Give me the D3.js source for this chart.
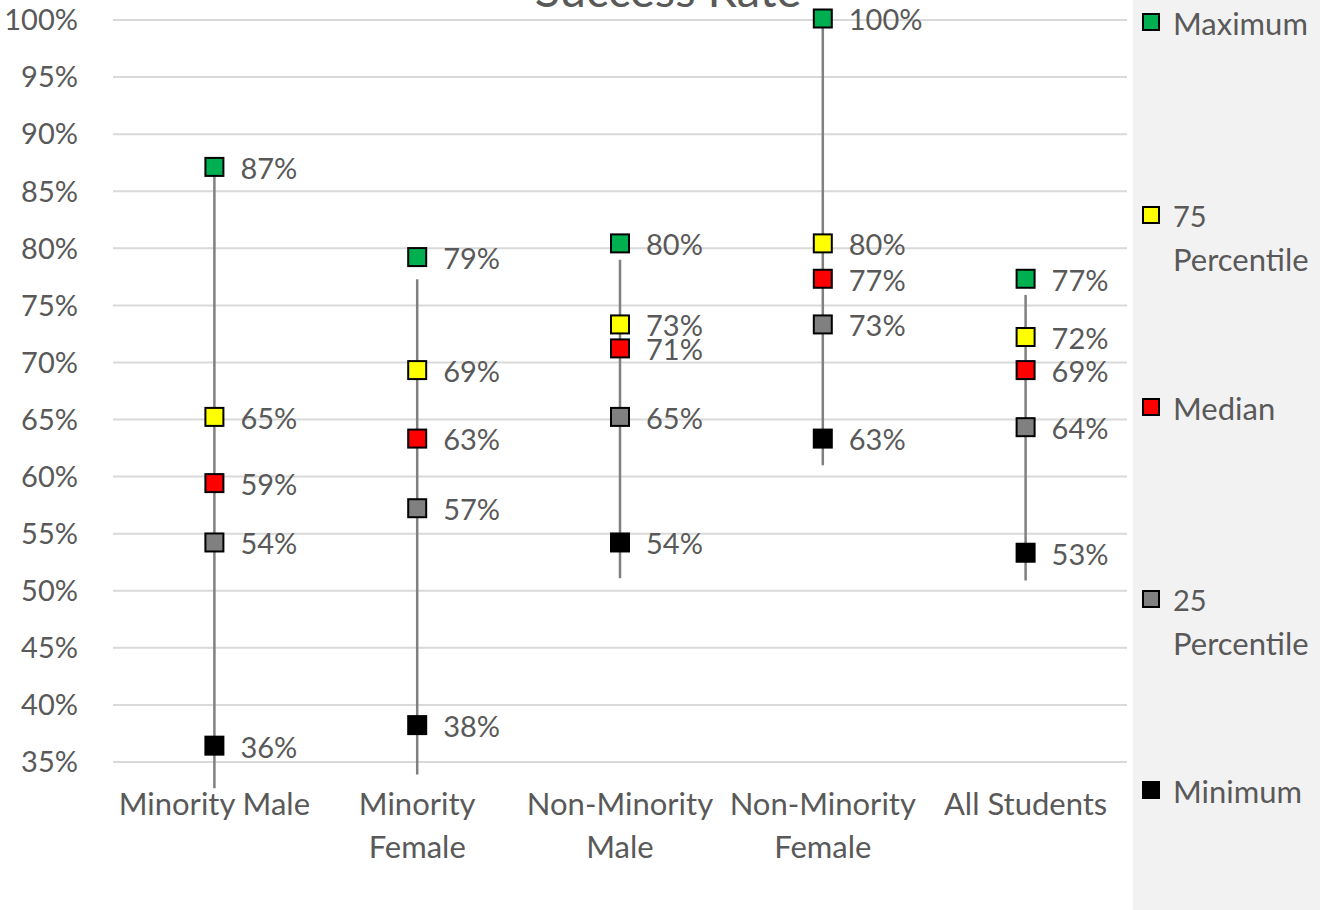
<!DOCTYPE html>
<html>
<head>
<meta charset="utf-8">
<script src="https://cdn.jsdelivr.net/npm/d3@7"></script>
<style>
  html, body { margin: 0; padding: 0; background: #fff; }
  svg { display: block; font-family: Lato, "Open Sans", "DejaVu Sans", sans-serif; }
</style>
</head>
<body>
<svg id="chart" width="1320" height="910"></svg>
<script>
// ---- data ----
const categories = [["Minority Male"], ["Minority", "Female"], ["Non-Minority", "Male"], ["Non-Minority", "Female"], ["All Students"]];
const maximum   = [87.0, 79.1, 80.3, 100.0, 77.2];
const pct75     = [65.1, 69.2, 73.2, 80.3, 72.1];
const median    = [59.3, 63.2, 71.1, 77.2, 69.2];
const pct25     = [54.1, 57.1, 65.1, 73.2, 64.2];
const minimum   = [36.3, 38.1, 54.1, 63.2, 53.2];
const maxLabels = ["87%", "79%", "80%", "100%", "77%"];
const p75Labels = ["65%", "69%", "73%", "80%", "72%"];
const medLabels = ["59%", "63%", "71%", "77%", "69%"];
const p25Labels = ["54%", "57%", "65%", "73%", "64%"];
const minLabels = ["36%", "38%", "54%", "63%", "53%"];
// hi-low connector lines (as drawn, slightly offset from markers)
const lineHigh  = [87.0, 77.3, 79.0, 100.0, 75.9];
const lineLow   = [32.7, 33.9, 51.1, 61.0, 50.9];
const yTicks    = [35, 40, 45, 50, 55, 60, 65, 70, 75, 80, 85, 90, 95, 100];
const title     = "Success Rate";

const seriesDefs = [
  { name: ["Maximum"], values: maximum, labels: maxLabels, color: "#00b050" },
  { name: ["75", "Percentile"], values: pct75, labels: p75Labels, color: "#ffff00" },
  { name: ["Median"], values: median, labels: medLabels, color: "#ff0000" },
  { name: ["25", "Percentile"], values: pct25, labels: p25Labels, color: "#808080" },
  { name: ["Minimum"], values: minimum, labels: minLabels, color: "#000000" }
];

// ---- layout ----
const svg = d3.select("#chart");
const textColor = "#595959";
const numSize = 29, wordSize = 31;
const x = d3.scaleBand().domain(d3.range(categories.length)).range([113, 1127]).paddingInner(0).paddingOuter(0);
const y = d3.scaleLinear().domain([35, 100]).range([762, 20]);
const cx = i => x(i) + x.bandwidth() / 2;

// legend background
svg.append("rect").attr("x", 1133).attr("y", 0).attr("width", 187).attr("height", 910).attr("fill", "#f2f2f2");

// gridlines
svg.append("g").selectAll("line").data(yTicks).join("line")
  .attr("x1", 113).attr("x2", 1127)
  .attr("y1", d => y(d)).attr("y2", d => y(d))
  .attr("stroke", "#d9d9d9").attr("stroke-width", 2);

// y-axis labels
svg.append("g").selectAll("text").data(yTicks).join("text")
  .attr("x", 78).attr("y", d => y(d) + 3)
  .attr("text-anchor", "end").attr("dominant-baseline", "middle")
  .attr("font-size", numSize).attr("fill", textColor)
  .text(d => d + "%");

// title (partially cut at top)
svg.append("text").attr("x", 668).attr("y", 7).attr("text-anchor", "middle")
  .attr("font-size", 47).attr("fill", textColor).text(title);

// category labels
const catG = svg.append("g");
categories.forEach((lines, i) => {
  lines.forEach((ln, j) => {
    catG.append("text").attr("x", cx(i)).attr("y", 807 + j * 43)
      .attr("text-anchor", "middle").attr("dominant-baseline", "middle")
      .attr("font-size", wordSize).attr("fill", textColor).text(ln);
  });
});

// hi-low lines
svg.append("g").selectAll("line").data(categories.map((c, i) => i)).join("line")
  .attr("x1", i => cx(i)).attr("x2", i => cx(i))
  .attr("y1", i => y(lineHigh[i])).attr("y2", i => y(lineLow[i]))
  .attr("stroke", "#808080").attr("stroke-width", 2.5);

// markers + labels
const mSize = 18;
seriesDefs.forEach(s => {
  const g = svg.append("g");
  g.selectAll("rect").data(s.values).join("rect")
    .attr("x", (d, i) => cx(i) - mSize / 2)
    .attr("y", d => y(d) - 1.5 - mSize / 2)
    .attr("width", mSize).attr("height", mSize)
    .attr("fill", s.color).attr("stroke", "#000").attr("stroke-width", 2);
  g.selectAll("text").data(s.values).join("text")
    .attr("x", (d, i) => cx(i) + 26)
    .attr("y", d => y(d) + 3)
    .attr("dominant-baseline", "middle")
    .attr("font-size", numSize).attr("fill", textColor)
    .text((d, i) => s.labels[i]);
});

// legend
const legendY = [22, 215, 407, 599, 790];
const legG = svg.append("g");
seriesDefs.forEach((s, k) => {
  legG.append("rect").attr("x", 1143).attr("y", legendY[k] - 8).attr("width", 16).attr("height", 16)
    .attr("fill", s.color).attr("stroke", "#000").attr("stroke-width", 2);
  s.name.forEach((ln, j) => {
    legG.append("text").attr("x", 1173).attr("y", legendY[k] + 5 + j * 43)
      .attr("dominant-baseline", "middle")
      .attr("font-size", /^\d+$/.test(ln) ? numSize : wordSize)
      .attr("fill", textColor).text(ln);
  });
});
</script>
</body>
</html>
